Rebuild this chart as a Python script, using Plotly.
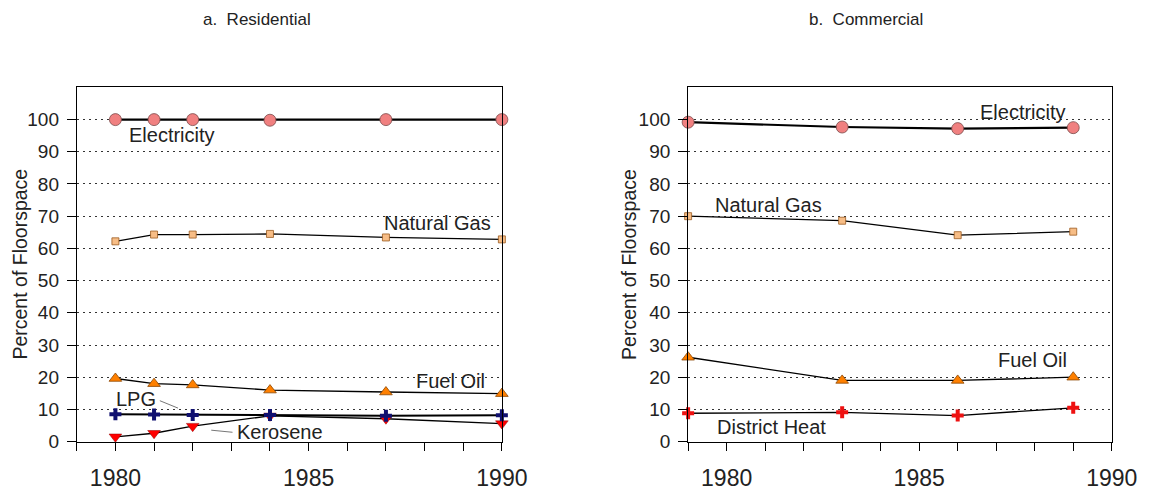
import plotly.graph_objects as go

# Residential panel data
res_years = [1980, 1981, 1982, 1984, 1987, 1990]
res_electricity = [100.0, 100.0, 100.0, 99.8, 100.0, 100.0]
res_natural_gas = [62.2, 64.3, 64.3, 64.5, 63.4, 62.8]
res_fuel_oil = [19.6, 18.0, 17.6, 16.0, 15.4, 14.9]
res_lpg = [8.5, 8.4, 8.3, 8.3, 8.0, 8.2]
res_kerosene = [1.5, 2.6, 4.8, 8.0, 7.1, 5.6]

# Commercial panel data
com_years = [1979, 1983, 1986, 1989]
com_electricity = [99.2, 97.7, 97.2, 97.5]
com_natural_gas = [70.0, 68.6, 64.1, 65.2]
com_fuel_oil = [26.2, 19.0, 19.0, 20.0]
com_district_heat = [8.8, 9.1, 8.1, 10.5]

y_ticks = [0, 10, 20, 30, 40, 50, 60, 70, 80, 90, 100]
x_labels = [1980, 1985, 1990]
x_minor = list(range(1979, 1991))

FONT = "Liberation Sans, Arial, sans-serif"
W, H = 1170, 492

styles = {
    "Electricity": dict(symbol="circle", size=12, color="#f08080", line=dict(color="#7a4a4a", width=0.8)),
    "Natural Gas": dict(symbol="square", size=7, color="#f7bd86", line=dict(color="#9a5a20", width=0.8)),
    "Fuel Oil": dict(symbol="triangle-up", size=11, color="#ff8000", line=dict(color="#8a4500", width=0.8)),
    "LPG": dict(symbol="cross", size=10, color="#101070", line=dict(width=0)),
    "Kerosene": dict(symbol="triangle-down", size=11, color="#ff0000", line=dict(color="#900000", width=0.5)),
    "District Heat": dict(symbol="cross", size=10, color="#ee1111", line=dict(width=0)),
}
line_widths = {"Electricity": 2.2, "Natural Gas": 1.2, "Fuel Oil": 1.3, "LPG": 2.0,
               "Kerosene": 1.3, "District Heat": 1.3}

fig = go.Figure()


def add_series(name, xs, ys, xa, ya):
    fig.add_trace(go.Scatter(
        x=xs, y=ys, mode="lines+markers", name=name,
        line=dict(color="black", width=line_widths[name]),
        marker=styles[name], xaxis=xa, yaxis=ya, showlegend=False, cliponaxis=False,
    ))


add_series("Electricity", res_years, res_electricity, "x", "y")
add_series("Natural Gas", res_years, res_natural_gas, "x", "y")
add_series("Fuel Oil", res_years, res_fuel_oil, "x", "y")
add_series("Kerosene", res_years, res_kerosene, "x", "y")
add_series("LPG", res_years, res_lpg, "x", "y")

add_series("Electricity", com_years, com_electricity, "x2", "y2")
add_series("Natural Gas", com_years, com_natural_gas, "x2", "y2")
add_series("Fuel Oil", com_years, com_fuel_oil, "x2", "y2")
add_series("District Heat", com_years, com_district_heat, "x2", "y2")

y_dom = [0.0819, 0.8183]
xaxis_common = dict(
    range=[1979, 1990], tickmode="array", tickvals=x_labels, ticktext=[str(v) for v in x_labels],
    ticks="outside", ticklen=8, tickcolor="black", ticklabelstandoff=8,
    showgrid=False, zeroline=False, showline=True, linecolor="black", linewidth=1,
    mirror=True, tickfont=dict(family=FONT, size=23, color="#222"),
    minor=dict(ticks="outside", tickvals=x_minor, ticklen=8, tickcolor="black", showgrid=False),
)
yaxis_common = dict(
    range=[0, 110], tickmode="array", tickvals=y_ticks, ticks="outside", ticklen=9,
    tickcolor="black", ticklabelstandoff=4,
    showgrid=True, gridcolor="#333", griddash="2px,4px", gridwidth=1,
    zeroline=False, showline=True, linecolor="black", linewidth=1, mirror=True,
    tickfont=dict(family=FONT, size=19, color="#222"),
)

fig.update_layout(
    width=W, height=H,
    margin=dict(l=0, r=0, t=0, b=0),
    paper_bgcolor="white", plot_bgcolor="white",
    xaxis=dict(domain=[0.0671, 0.4387], anchor="y", **xaxis_common),
    yaxis=dict(domain=y_dom, anchor="x", **yaxis_common),
    xaxis2=dict(domain=[0.6015, 0.9718], anchor="y2", **xaxis_common),
    yaxis2=dict(domain=y_dom, anchor="x2", **yaxis_common),
)

ann_font = dict(family=FONT, size=20, color="#222")
labels = [
    ("x", "y", 1981.47, 95.1, "Electricity"),
    ("x", "y", 1988.33, 67.9, "Natural Gas"),
    ("x", "y", 1988.68, 18.7, "Fuel Oil"),
    ("x", "y", 1980.52, 13.2, "LPG"),
    ("x", "y", 1984.25, 3.0, "Kerosene"),
    ("x2", "y2", 1987.70, 102.4, "Electricity"),
    ("x2", "y2", 1981.09, 73.4, "Natural Gas"),
    ("x2", "y2", 1987.94, 25.3, "Fuel Oil"),
    ("x2", "y2", 1981.17, 4.55, "District Heat"),
]
for xa, ya, xv, yv, text in labels:
    fig.add_annotation(x=xv, y=yv, xref=xa, yref=ya, text=text, showarrow=False,
                       font=ann_font, xanchor="center", yanchor="middle")

# leader lines for the small labels
fig.add_shape(type="line", xref="x", yref="y", x0=1981.15, y0=12.7, x1=1981.62, y1=10.4,
              line=dict(color="#777", width=1))
fig.add_shape(type="line", xref="x", yref="y", x0=1982.48, y0=3.55, x1=1983.03, y1=2.9,
              line=dict(color="#777", width=1))

# y-axis titles, one per panel
y_title_font = dict(family=FONT, size=19.5, color="#222")
for x_px in (19.5, 642.7):
    fig.add_annotation(x=x_px / W, y=sum(y_dom) / 2, xref="paper", yref="paper",
                       text="Percent of Floorspace", textangle=-90, showarrow=False,
                       font=y_title_font, xanchor="center", yanchor="middle")

# panel titles
title_font = dict(family=FONT, size=17, color="#222")
fig.add_annotation(x=263 / W, y=1 - 20 / H, xref="paper", yref="paper", text="a.  Residential",
                   showarrow=False, font=title_font, xanchor="center", yanchor="middle")
fig.add_annotation(x=886 / W, y=1 - 20 / H, xref="paper", yref="paper", text="b.  Commercial",
                   showarrow=False, font=title_font, xanchor="center", yanchor="middle")

fig.write_html("out.html")
